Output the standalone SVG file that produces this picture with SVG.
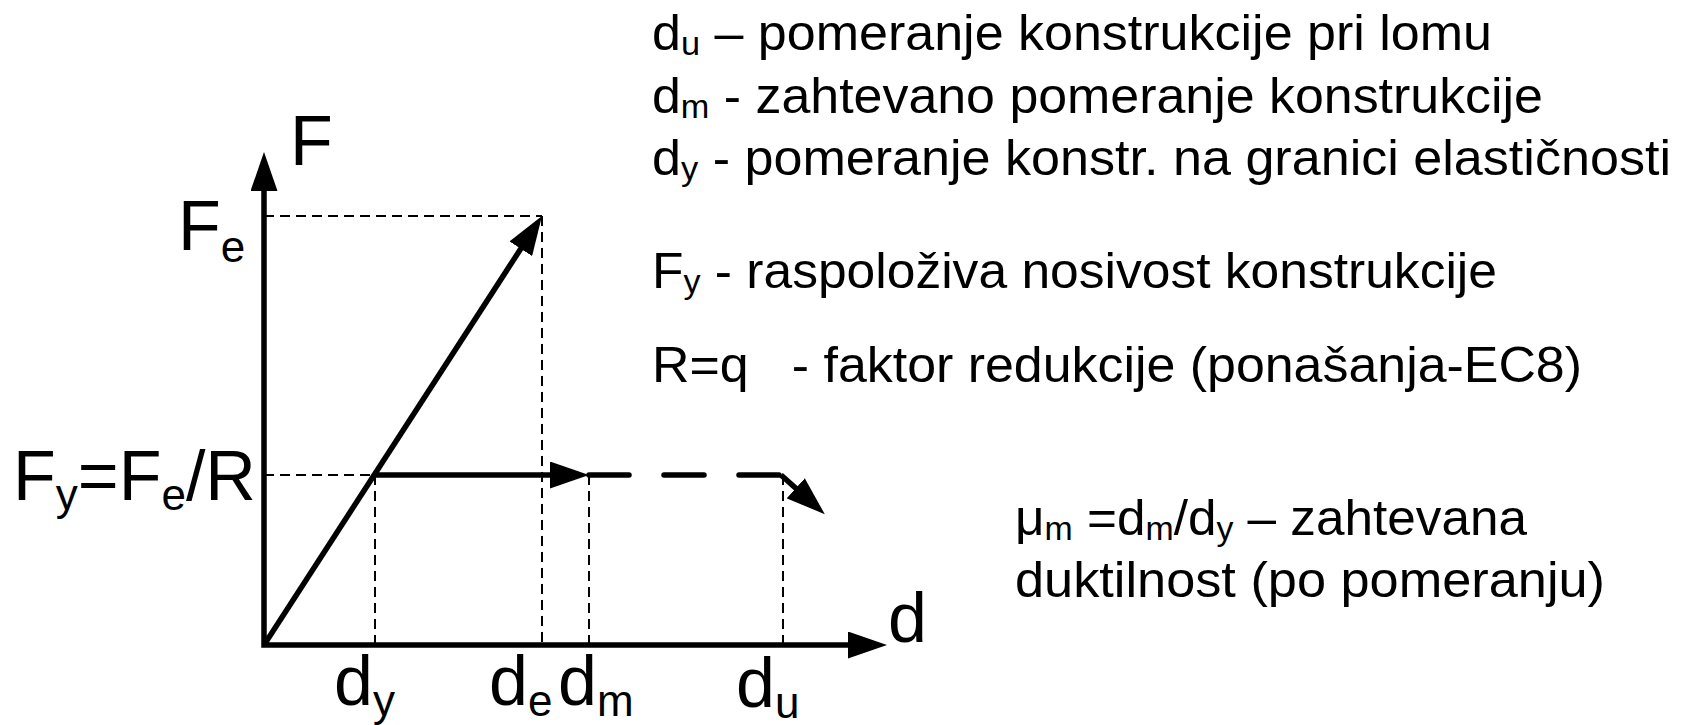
<svg xmlns="http://www.w3.org/2000/svg" width="1686" height="725" viewBox="0 0 1686 725">
<style>
text{font-family:"Liberation Sans",Arial,sans-serif;fill:#000}
.big{font-size:70px}
.sb{font-size:44px}
.leg{font-size:50px}
.ls{font-size:33px}
.thick{fill:none;stroke:#000;stroke-width:5.5}
.thin{fill:none;stroke:#000;stroke-width:2;stroke-dasharray:10 6}
.dash{fill:none;stroke:#000;stroke-width:5.5;stroke-dasharray:40 35;stroke-linecap:round}
</style>
<defs>
<marker id="ah" viewBox="0 0 39 27" refX="19" refY="13.5" markerWidth="39" markerHeight="27" markerUnits="userSpaceOnUse" orient="auto-start-reverse">
<path d="M0,0 L39,13.5 L0,27 Z" fill="#000"/>
</marker>
</defs>
<rect width="1686" height="725" fill="#fff"/>
<g id="guides">
<path class="thin" d="M264,216 H542"/>
<path class="thin" d="M542,216 V645"/>
<path class="thin" d="M264,475 H374"/>
<path class="thin" d="M375,475 V645"/>
<path class="thin" d="M589,475 V645"/>
<path class="thin" d="M783,475 V645"/>
</g>
<g id="connectors">
<path id="axes" class="thick" d="M264,172 L264,645 L867,645" stroke-linejoin="miter" marker-start="url(#ah)" marker-end="url(#ah)"/>
<path id="elastic" class="thick" d="M264,645 L531.1,232.8" marker-end="url(#ah)"/>
<path id="plateau" class="thick" d="M374,475 H569" marker-end="url(#ah)"/>
<path id="plateau-dash" class="dash" d="M589,475 H781"/>
<path id="failure" class="thick" d="M781,475 L809.9,500.9" marker-end="url(#ah)"/>
</g>
<g id="axis-labels">
<text id="lbl-F" class="big" x="290" y="165">F</text>
<text id="lbl-d" class="big" x="888" y="642">d</text>
<text id="lbl-Fe" class="big" x="178" y="250">F<tspan class="sb" dy="12">e</tspan></text>
<text id="lbl-Fy" class="big" x="13" y="500">F<tspan class="sb" dy="10">y</tspan><tspan dy="-10">=F</tspan><tspan class="sb" dy="10">e</tspan><tspan dy="-10">/R</tspan></text>
<text id="lbl-dy" class="big" x="334" y="705">d<tspan class="sb" dy="11">y</tspan></text>
<text id="lbl-de" class="big" x="489" y="705">d<tspan class="sb" dy="11">e</tspan></text>
<text id="lbl-dm" class="big" x="558" y="705">d<tspan class="sb" dy="11">m</tspan></text>
<text id="lbl-du" class="big" x="736" y="707">d<tspan class="sb" dy="11">u</tspan></text>
</g>
<g id="legend">
<text class="leg" x="652" y="50" textLength="840" lengthAdjust="spacingAndGlyphs">d<tspan class="ls" dy="5">u</tspan><tspan dy="-5"> – pomeranje konstrukcije pri lomu</tspan></text>
<text class="leg" x="652" y="113" textLength="891" lengthAdjust="spacingAndGlyphs">d<tspan class="ls" dy="5">m</tspan><tspan dy="-5"> - zahtevano pomeranje konstrukcije</tspan></text>
<text class="leg" x="652" y="175" textLength="1019" lengthAdjust="spacingAndGlyphs">d<tspan class="ls" dy="5">y</tspan><tspan dy="-5"> - pomeranje konstr. na granici elastičnosti</tspan></text>
<text class="leg" x="652" y="288" textLength="845" lengthAdjust="spacingAndGlyphs">F<tspan class="ls" dy="5">y</tspan><tspan dy="-5"> - raspoloživa nosivost konstrukcije</tspan></text>
<text class="leg" x="652" y="382" textLength="930" lengthAdjust="spacingAndGlyphs" style="white-space:pre">R=q   - faktor redukcije (ponašanja-EC8)</text>
<text class="leg" x="1015" y="535" textLength="512" lengthAdjust="spacingAndGlyphs">μ<tspan class="ls" dy="5">m</tspan><tspan dy="-5"> =d</tspan><tspan class="ls" dy="5">m</tspan><tspan dy="-5">/d</tspan><tspan class="ls" dy="5">y</tspan><tspan dy="-5"> – zahtevana</tspan></text>
<text class="leg" x="1015" y="597" textLength="590" lengthAdjust="spacingAndGlyphs">duktilnost (po pomeranju)</text>
</g>
</svg>
